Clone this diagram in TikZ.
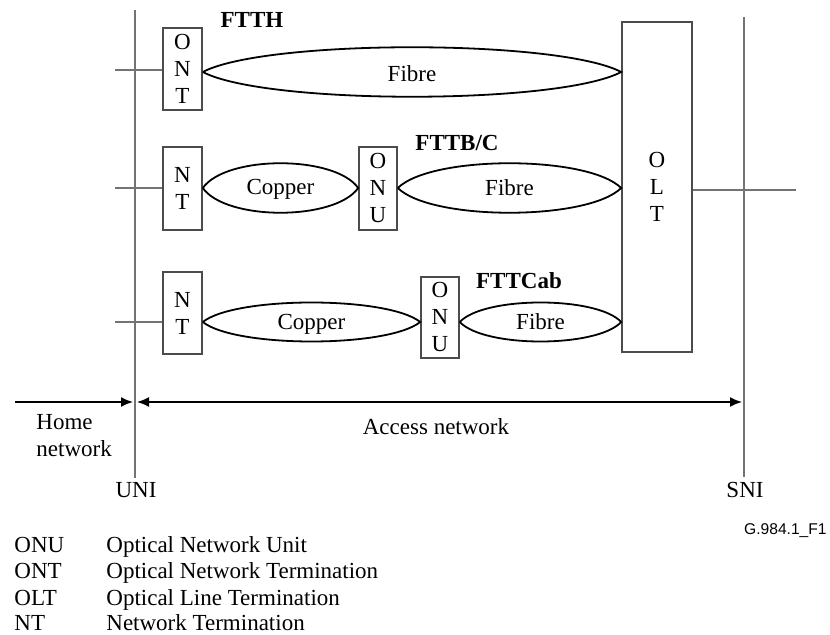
\documentclass[tikz,border=0pt]{standalone}
\usepackage{fontspec}
\setmainfont{Liberation Serif}
\newfontfamily\figidfont{Liberation Sans}
\usetikzlibrary{calc,positioning,arrows.meta}
\tikzset{>={Latex[length=6pt,width=5pt]}}
\tikzset{termbox/.style={draw=black!70, line width=0.8pt, fill=white, align=center, inner sep=0pt, minimum width=19.5pt}}
\tikzset{cable/.style={line width=0.9pt}}
\tikzset{refline/.style={draw=black!55, line width=0.8pt}}
\tikzset{txt/.style={inner sep=0pt, anchor=base}}
% lens between two points at the same height, #3 = bulge
\newcommand{\lens}[3]{%
  \draw[cable] (#1) .. controls ($(#1)!0.15!(#2)+(0,-#3)$) and ($(#1)!0.85!(#2)+(0,-#3)$) .. (#2)
    .. controls ($(#1)!0.85!(#2)+(0,#3)$) and ($(#1)!0.15!(#2)+(0,#3)$) .. (#1);}

\begin{document}
\begin{tikzpicture}[x=0.5pt,y=-0.5pt,font=\fontsize{11.5}{13.5}\selectfont]
\useasboundingbox (0,0) rectangle (830,635);
%%%% UNI and SNI
\coordinate (uniTop) at (135,10);
\coordinate (uniBot) at (135,478);
\coordinate (sniTop) at (744,17);
\coordinate (sniBot) at (744,477);
\draw[refline] (uniTop) -- (uniBot);
\draw[refline] (sniTop) -- (sniBot);
\node[txt] (uni) at (136,498) {UNI};
\node[txt] (sni) at (745,498) {SNI};
%%%% OLT
\node[termbox, minimum width=35pt, minimum height=165pt] (olt) at (657,187) {O\\L\\T};
\coordinate (sniOut) at (796,190);
\draw[refline] (olt.east |- sniOut) -- (sniOut);
%%%% FTTH
\node[termbox, minimum height=41pt] (ont) at (182.5,69) {O\\N\\T};
\node[txt] (ftth) at (252,28) {\bfseries FTTH};
\coordinate (homeA) at (115,70);
\draw[refline] (homeA) -- (homeA -| ont.west);
\coordinate (fibA1) at (ont.east |- 0,72);
\coordinate (fibA2) at (olt.west |- 0,72);
\lens{fibA1}{fibA2}{33}
\node[txt] (fibreA) at ($(fibA1)!0.5!(fibA2)+(0,10)$) {Fibre};
%%%% FTTB/C
\node[termbox, minimum height=41.5pt] (ntB) at (182.5,188.5) {N\\T};
\node[termbox, minimum width=19pt, minimum height=41.5pt] (onuB) at (378,188.5) {O\\N\\U};
\node[txt] (fttb) at (457,151) {\bfseries FTTB/C};
\coordinate (homeB) at (115,188);
\draw[refline] (homeB) -- (homeB -| ntB.west);
\coordinate (copB1) at (ntB.east |- 0,188);
\coordinate (copB2) at (onuB.west |- 0,188);
\coordinate (fibB1) at (onuB.east |- 0,188);
\coordinate (fibB2) at (olt.west |- 0,188);
\lens{copB1}{copB2}{33}
\lens{fibB1}{fibB2}{33}
\node[txt] (copperB) at ($(copB1)!0.5!(copB2)+(0,7)$) {Copper};
\node[txt] (fibreB) at ($(fibB1)!0.5!(fibB2)+(0,8)$) {Fibre};
%%%% FTTCab
\node[termbox, minimum height=41pt] (ntC) at (182.5,313) {N\\T};
\node[termbox, minimum width=19pt, minimum height=40.5pt] (onuC) at (440,317.5) {O\\N\\U};
\node[txt] (fttcab) at (519,289) {\bfseries FTTCab};
\coordinate (homeC) at (115,322);
\draw[refline] (homeC) -- (homeC -| ntC.west);
\coordinate (copC1) at (ntC.east |- 0,322);
\coordinate (copC2) at (onuC.west |- 0,322);
\coordinate (fibC1) at (onuC.east |- 0,322);
\coordinate (fibC2) at (olt.west |- 0,322);
\lens{copC1}{copC2}{26}
\lens{fibC1}{fibC2}{26}
\node[txt] (copperC) at ($(copC1)!0.5!(copC2)+(0,8)$) {Copper};
\node[txt] (fibreC) at ($(fibC1)!0.5!(fibC2)+(0,8)$) {Fibre};
%%%% networks
\coordinate (homeL) at (15,402);
\coordinate (homeR) at (133,402);
\coordinate (accL) at (137,402);
\coordinate (accR) at (742,402);
\draw[->, line width=0.8pt] (homeL) -- (homeR);
\draw[<->, line width=0.8pt] (accL) -- (accR);
\node[txt, anchor=base west, align=left] (home) at (36,457) {Home\\network};
\node[txt] (access) at (436,435) {Access network};
\node[txt, anchor=base east, font=\figidfont\fontsize{7.8}{9}\selectfont] (figid) at (827,535) {G.984.1\_F1};
%%%% legend
\node[txt, anchor=base west] (kONU) at (14,553) {ONU};
\node[txt, anchor=base west] (kONT) at (14,579) {ONT};
\node[txt, anchor=base west] (kOLT) at (14,606) {OLT};
\node[txt, anchor=base west] (kNT) at (14,631) {NT};
\node[txt, anchor=base west] (dONU) at (106,553) {Optical Network Unit};
\node[txt, anchor=base west] (dONT) at (106,579) {Optical Network Termination};
\node[txt, anchor=base west] (dOLT) at (106,606) {Optical Line Termination};
\node[txt, anchor=base west] (dNT) at (106,631) {Network Termination};
\end{tikzpicture}
\end{document}
